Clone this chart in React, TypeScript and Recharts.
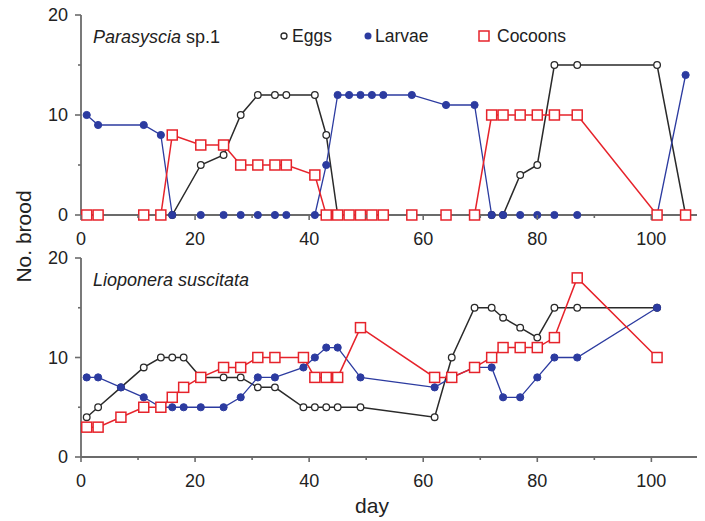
import React from "react"
import { LineChart, Line, XAxis, YAxis } from "recharts"

// days sampled in each colony
const topDays = [1, 3, 11, 14, 16, 21, 25, 28, 31, 34, 36, 41, 43, 45, 47, 49, 51, 53, 58, 64, 69, 72, 74, 77, 80, 83, 87, 101, 106]
const topEggs = [0, 0, 0, 0, 0, 5, 6, 10, 12, 12, 12, 12, 8, 0, 0, 0, 0, 0, 0, 0, 0, 0, 0, 4, 5, 15, 15, 15, 0]
const topLarvae = [10, 9, 9, 8, 0, 0, 0, 0, 0, 0, 0, 0, 5, 12, 12, 12, 12, 12, 12, 11, 11, 0, 0, 0, 0, 0, 0, 0, 14]
const topCocoons = [0, 0, 0, 0, 8, 7, 7, 5, 5, 5, 5, 4, 0, 0, 0, 0, 0, 0, 0, 0, 0, 10, 10, 10, 10, 10, 10, 0, 0]

const botDays = [1, 3, 7, 11, 14, 16, 18, 21, 25, 28, 31, 34, 39, 41, 43, 45, 49, 62, 65, 69, 72, 74, 77, 80, 83, 87, 101]
const botEggs = [4, 5, 7, 9, 10, 10, 10, 8, 8, 8, 7, 7, 5, 5, 5, 5, 5, 4, 10, 15, 15, 14, 13, 12, 15, 15, 15]
const botLarvae = [8, 8, 7, 6, 5, 5, 5, 5, 5, 6, 8, 8, 9, 10, 11, 11, 8, 7, 8, 9, 9, 6, 6, 8, 10, 10, 15]
const botCocoons = [3, 3, 4, 5, 5, 6, 7, 8, 9, 9, 10, 10, 10, 8, 8, 8, 13, 8, 8, 9, 10, 11, 11, 11, 12, 18, 10]

const xTicks = [0, 10, 20, 30, 40, 50, 60, 70, 80, 90, 100]
const yTicks = [0, 5, 10, 15, 20]

const FONT = '"Liberation Sans", Arial, Helvetica, sans-serif'
const AXIS = "#6b6b6b"
const BLACK = "#2a2a2a"
const BLUE = "#2c3ba0"
const RED = "#e6232b"

const rows = (days: number[], eggs: number[], larvae: number[], cocoons: number[]) =>
  days.map((day, i) => ({ day, eggs: eggs[i], larvae: larvae[i], cocoons: cocoons[i] }))

const XTick = (props: any) => {
  const { x, y, payload } = props
  const axisY = y - 13
  const major = payload.value % 20 === 0
  return (
    <g>
      <line x1={x} x2={x} y1={axisY} y2={axisY + (major ? 5 : 3)} stroke={AXIS} strokeWidth={1.6} />
      {major && (
        <text x={x} y={axisY + 30} textAnchor="middle" fontSize={18} fill="#222" fontFamily={FONT}>
          {payload.value}
        </text>
      )}
    </g>
  )
}

const YTick = (props: any) => {
  const { x, y, payload } = props
  const axisX = x + 9
  const major = payload.value % 10 === 0
  return (
    <g>
      <line x1={axisX - (major ? 6 : 3)} x2={axisX} y1={y} y2={y} stroke={AXIS} strokeWidth={1.6} />
      {major && (
        <text x={axisX - 13} y={y} dy="0.36em" textAnchor="end" fontSize={18} fill="#222" fontFamily={FONT}>
          {payload.value}
        </text>
      )}
    </g>
  )
}

const Square = (props: any) => {
  const { cx, cy } = props
  if (cx == null || cy == null) return <g />
  return <rect x={cx - 5} y={cy - 5} width={10} height={10} fill="#fff" stroke={RED} strokeWidth={1.5} />
}

function Panel({ data, height }: { data: any[]; height: number }) {
  return (
    <LineChart width={705} height={height} data={data} margin={{ top: 15, right: 8, bottom: 0, left: 0 }}>
      <XAxis
        dataKey="day"
        type="number"
        domain={[0, 108]}
        ticks={xTicks}
        interval={0}
        height={35}
        tickSize={5}
        tickMargin={8}
        tickLine={false}
        tick={<XTick />}
        axisLine={{ stroke: AXIS, strokeWidth: 1.8 }}
      />
      <YAxis
        type="number"
        domain={[0, 20]}
        ticks={yTicks}
        interval={0}
        width={81}
        tickSize={6}
        tickMargin={3}
        tickLine={false}
        tick={<YTick />}
        axisLine={{ stroke: AXIS, strokeWidth: 1.8 }}
      />
      <Line
        dataKey="eggs"
        stroke={BLACK}
        strokeWidth={1.5}
        dot={{ r: 3.3, fill: "#fff", stroke: BLACK, strokeWidth: 1.3 }}
        isAnimationActive={false}
      />
      <Line
        dataKey="larvae"
        stroke={BLUE}
        strokeWidth={1.3}
        dot={{ r: 3.6, fill: BLUE, stroke: BLUE, strokeWidth: 1 }}
        isAnimationActive={false}
      />
      <Line
        dataKey="cocoons"
        stroke={RED}
        strokeWidth={1.5}
        dot={<Square />}
        isAnimationActive={false}
      />
    </LineChart>
  )
}

export default function App() {
  return (
    <div style={{ position: "absolute", left: 0, top: 0, width: 705, height: 521, background: "#fff", fontFamily: FONT }}>
      <div style={{ position: "absolute", left: 0, top: 0 }}>
        <Panel data={rows(topDays, topEggs, topLarvae, topCocoons)} height={250} />
      </div>
      <div style={{ position: "absolute", left: 0, top: 243 }}>
        <Panel data={rows(botDays, botEggs, botLarvae, botCocoons)} height={249} />
      </div>
      <svg width={705} height={521} style={{ position: "absolute", left: 0, top: 0, pointerEvents: "none" }}>
        <text x={93} y={43} fontSize={18} fill="#222" fontFamily={FONT}>
          <tspan fontStyle="italic">Parasyscia</tspan> sp.1
        </text>
        <text x={93} y={286} fontSize={18} fill="#222" fontFamily={FONT} fontStyle="italic">
          Lioponera suscitata
        </text>

        <circle cx={284} cy={36} r={3} fill="#fff" stroke={BLACK} strokeWidth={1.3} />
        <text x={292} y={42} fontSize={17.5} fill="#222" fontFamily={FONT}>Eggs</text>
        <circle cx={368} cy={36} r={3.5} fill={BLUE} />
        <text x={375} y={42} fontSize={17.5} fill="#222" fontFamily={FONT}>Larvae</text>
        <rect x={479} y={31} width={10} height={10} fill="#fff" stroke={RED} strokeWidth={1.5} />
        <text x={497} y={42} fontSize={17.5} fill="#222" fontFamily={FONT}>Cocoons</text>

        <text x={31} y={236.5} fontSize={21} fill="#222" fontFamily={FONT} textAnchor="middle" transform="rotate(-90 31 236.5)">
          No. brood
        </text>
        <text x={372} y={513} fontSize={21} fill="#222" fontFamily={FONT} textAnchor="middle">day</text>
      </svg>
    </div>
  )
}
